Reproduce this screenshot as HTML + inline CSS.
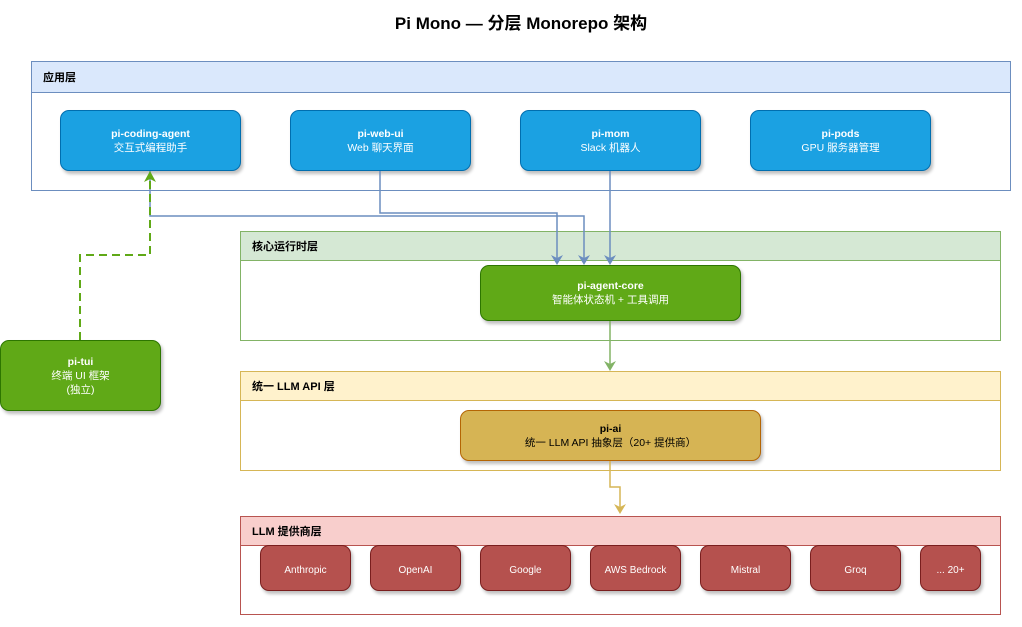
<!DOCTYPE html>
<html><head><meta charset="utf-8"><style>
body{margin:0;width:1022px;height:627px;background:#fff;position:relative;overflow:hidden;font-family:"Liberation Sans","Noto Sans CJK SC",sans-serif}
.a{position:absolute;box-sizing:border-box}
.lay{border:1px solid}
.hd{position:absolute;left:-1px;right:-1px;top:-1px;border:1px solid;box-sizing:border-box;font-size:11px;font-weight:bold;padding-left:11px;display:flex;align-items:center;color:#000}
.n{border-radius:9px;border:1px solid;display:flex;flex-direction:column;justify-content:center;align-items:center;text-align:center;font-size:10.5px;line-height:14px;color:#fff;box-shadow:2px 3px 3px rgba(0,0,0,.25)}
.n b{font-weight:bold}
.p{background:#b5514e;border-color:#7a1e1e;font-size:10px;padding-top:6px}
.bl{background:#1ba1e2;border-color:#006eaf}
.gr{background:#60a917;border-color:#2d7600}
</style></head><body>
<div class="a" style="left:0;top:9px;width:1042px;text-align:center;font-size:17px;font-weight:bold">Pi Mono — 分层 Monorepo 架构</div>

<div class="a lay" style="left:31px;top:61px;width:980px;height:130px;border-color:#6c8ebf"><div class="hd" style="height:32px;background:#dae8fc;border-color:#6c8ebf">应用层</div></div>
<div class="a lay" style="left:240px;top:231px;width:761px;height:110px;border-color:#82b366"><div class="hd" style="height:30px;background:#d5e8d4;border-color:#82b366">核心运行时层</div></div>
<div class="a lay" style="left:240px;top:371px;width:761px;height:100px;border-color:#d6b656"><div class="hd" style="height:30px;background:#fff2cc;border-color:#d6b656">统一 LLM API 层</div></div>
<div class="a lay" style="left:240px;top:516px;width:761px;height:99px;border-color:#b85450"><div class="hd" style="height:30px;background:#f8cecc;border-color:#b85450">LLM 提供商层</div></div>

<div class="a n bl" style="left:60px;top:110px;width:181px;height:61px"><b>pi-coding-agent</b>交互式编程助手</div>
<div class="a n bl" style="left:290px;top:110px;width:181px;height:61px"><b>pi-web-ui</b>Web 聊天界面</div>
<div class="a n bl" style="left:520px;top:110px;width:181px;height:61px"><b>pi-mom</b>Slack 机器人</div>
<div class="a n bl" style="left:750px;top:110px;width:181px;height:61px"><b>pi-pods</b>GPU 服务器管理</div>

<div class="a n gr" style="left:480px;top:265px;width:261px;height:56px"><b>pi-agent-core</b>智能体状态机 + 工具调用</div>
<div class="a n gr" style="left:0;top:340px;width:161px;height:71px"><b>pi-tui</b>终端 UI 框架<br>(独立)</div>
<div class="a n" style="left:460px;top:410px;width:301px;height:51px;background:#d6b454;border-color:#b46504;color:#000"><b>pi-ai</b>统一 LLM API 抽象层（20+ 提供商）</div>

<div class="a n p" style="left:260px;top:545px;width:91px;height:46px">Anthropic</div>
<div class="a n p" style="left:370px;top:545px;width:91px;height:46px">OpenAI</div>
<div class="a n p" style="left:480px;top:545px;width:91px;height:46px">Google</div>
<div class="a n p" style="left:590px;top:545px;width:91px;height:46px">AWS Bedrock</div>
<div class="a n p" style="left:700px;top:545px;width:91px;height:46px">Mistral</div>
<div class="a n p" style="left:810px;top:545px;width:91px;height:46px">Groq</div>
<div class="a n p" style="left:920px;top:545px;width:61px;height:46px">... 20+</div>

<svg class="a" style="left:0;top:0" width="1022" height="627">
<g fill="none" stroke-width="1.5">
<path d="M150 171V216H584V258" stroke="#6c8ebf"/>
<path d="M380 171V213H557V258" stroke="#6c8ebf"/>
<path d="M610 171V258" stroke="#6c8ebf"/>
<path d="M610 321V364" stroke="#82b366"/>
<path d="M610 461V487H620V507" stroke="#d6b656"/>
<path d="M80 340V255H150V180" stroke="#60a917" stroke-width="2" stroke-dasharray="8,5"/>
</g>
<g stroke="none">
<path d="M551 255L557 265L563 255L557 258Z" fill="#6c8ebf"/>
<path d="M578 255L584 265L590 255L584 258Z" fill="#6c8ebf"/>
<path d="M604 255L610 265L616 255L610 258Z" fill="#6c8ebf"/>
<path d="M604 361L610 371L616 361L610 364Z" fill="#82b366"/>
<path d="M614 504L620 514L626 504L620 507Z" fill="#d6b656"/>
<path d="M144 182L150 171L156 182L150 179Z" fill="#60a917"/>
</g>
</svg>
</body></html>
